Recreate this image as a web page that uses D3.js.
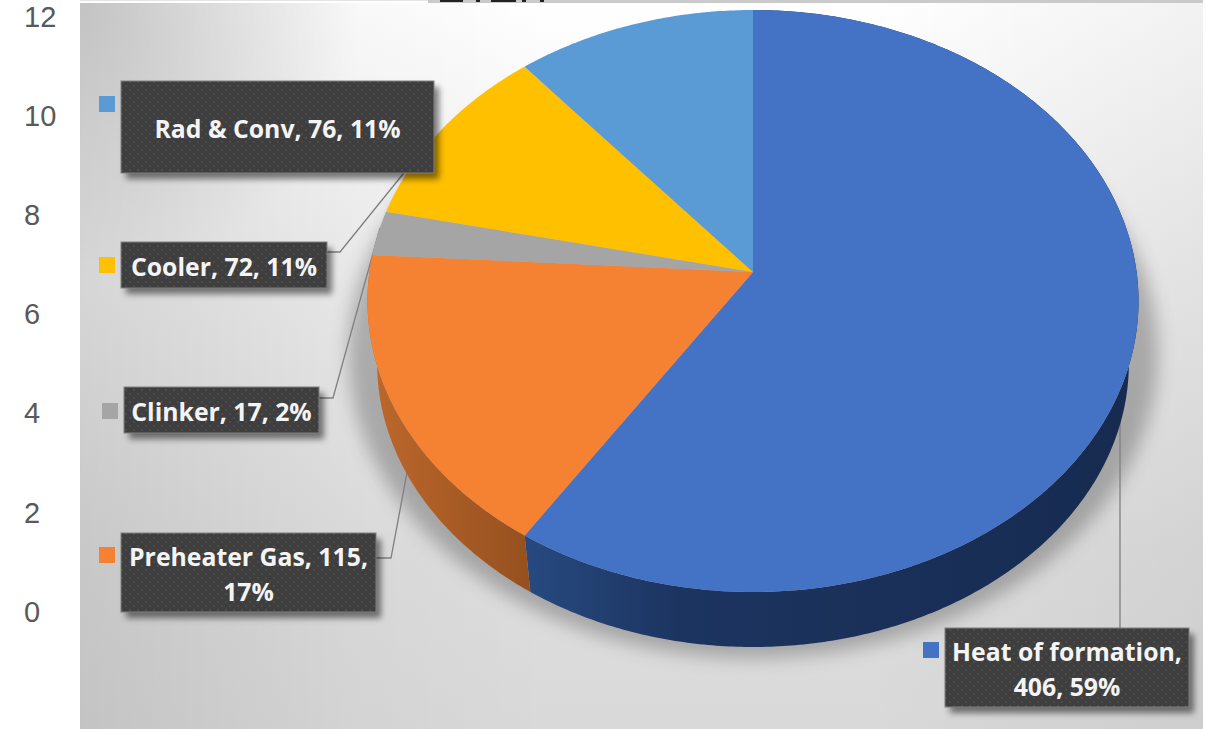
<!DOCTYPE html>
<html>
<head>
<meta charset="utf-8">
<script src="https://cdn.jsdelivr.net/npm/d3@7"></script>
<style>
  html, body { margin: 0; padding: 0; background: #fff; }
  svg { display: block; }
</style>
</head>
<body>
<svg id="chart" width="1206" height="729"></svg>
<script>
// Heat balance of the kiln, in slice order clockwise from twelve o'clock
const categories = ["Heat of formation", "Preheater Gas", "Clinker", "Cooler", "Rad & Conv"];
const heatValues = [406, 115, 17, 72, 76];
const heatPercents = [59, 17, 2, 11, 11];
const sliceColors = ["#4472c4", "#f58233", "#a5a5a5", "#ffc000", "#5b9bd5"];
const axisTicks = [0, 2, 4, 6, 8, 10, 12];

// Label box placement, one entry per category
const labelBoxes = [
  { x: 945, y: 628, w: 244, h: 79, key: [923, 642], lines: ["name,", "value, pct"] },
  { x: 121, y: 533, w: 255, h: 79, key: [99, 547], lines: ["name, value,", "pct"] },
  { x: 124, y: 387, w: 195, h: 46, key: [102, 403], lines: ["name, value, pct"] },
  { x: 121, y: 242, w: 206, h: 46, key: [99, 257], lines: ["name, value, pct"] },
  { x: 121, y: 81, w: 313, h: 92, key: [99, 96], lines: ["name, value, pct"] }
];
// Leader polylines from label boxes into their slices
const leaders = [
  [[1120, 628], [1120, 410]],
  [[376, 558], [391, 558], [409, 462]],
  [[319, 398], [333, 398], [380, 228]],
  [[327, 252], [340, 252], [420, 153]]
];

const svg = d3.select("#chart");
const defs = svg.append("defs");

// ---- Backdrop gradients and effects ----
function linear(id, x1, y1, x2, y2, stops) {
  const g = defs.append("linearGradient").attr("id", id)
    .attr("gradientUnits", "userSpaceOnUse")
    .attr("x1", x1).attr("y1", y1).attr("x2", x2).attr("y2", y2);
  stops.forEach(s => g.append("stop").attr("offset", s[0]).attr("stop-color", s[1]).attr("stop-opacity", s[2] === undefined ? 1 : s[2]));
}
linear("bgV", 0, 3, 0, 729, [[0, "#ffffff"], [0.35, "#efefef"], [0.75, "#dedede"], [1, "#d9d9d9"]]);
linear("bgH", 80, 0, 1203, 0, [[0, "#000", 0.10], [0.25, "#000", 0.025], [0.42, "#000", 0], [0.7, "#000", 0], [1, "#000", 0.05]]);
const corner = defs.append("radialGradient").attr("id", "bgCorner")
  .attr("gradientUnits", "userSpaceOnUse").attr("cx", 80).attr("cy", 3).attr("r", 280);
corner.append("stop").attr("offset", 0).attr("stop-color", "#000").attr("stop-opacity", 0.15);
corner.append("stop").attr("offset", 1).attr("stop-color", "#000").attr("stop-opacity", 0);

linear("wall0", 530, 0, 1130, 0, [[0, "#27497f"], [0.25, "#1c3460"], [1, "#172b50"]]);
linear("wall1", 378, 0, 532, 0, [[0, "#bb672b"], [1, "#95501f"]]);

defs.append("filter").attr("id", "pieShadow")
  .attr("x", "-10%").attr("y", "-10%").attr("width", "120%").attr("height", "120%")
  .append("feGaussianBlur").attr("stdDeviation", 9);
defs.append("filter").attr("id", "boxShadow")
  .attr("x", "-10%").attr("y", "-20%").attr("width", "120%").attr("height", "140%")
  .append("feGaussianBlur").attr("stdDeviation", 3);

const dots = defs.append("pattern").attr("id", "boxDots")
  .attr("patternUnits", "userSpaceOnUse").attr("width", 8).attr("height", 8);
dots.append("rect").attr("width", 8).attr("height", 8).attr("fill", "#3e3e3e");
dots.append("circle").attr("cx", 2).attr("cy", 2).attr("r", 0.8).attr("fill", "#5a5a5a");
dots.append("circle").attr("cx", 6).attr("cy", 6).attr("r", 0.8).attr("fill", "#5a5a5a");

const plot = { x: 80, y: 3, w: 1123, h: 726 };
["url(#bgV)", "url(#bgH)", "url(#bgCorner)"].forEach(fill =>
  svg.append("rect").attr("x", plot.x).attr("y", plot.y).attr("width", plot.w).attr("height", plot.h).attr("fill", fill));

// Sliver of the window frame and cut-off heading along the top edge
svg.append("rect").attr("x", 80).attr("y", 0).attr("width", 1123).attr("height", 1).attr("fill", "#e4e4e4");
svg.append("rect").attr("x", 428).attr("y", 0).attr("width", 775).attr("height", 3).attr("fill", "#cacaca");
svg.selectAll("rect.frag").data([[440, 23], [476, 4], [491, 25], [522, 4], [540, 4]]).join("rect")
  .attr("class", "frag").attr("x", d => d[0]).attr("y", 0).attr("width", d => d[1]).attr("height", 2).attr("fill", "#222");

// ---- Value axis left over from the underlying chart ----
const yAxisScale = d3.scaleLinear().domain([0, 12]).range([612, 17]);
const axisG = svg.append("g").attr("transform", "translate(24,0)")
  .call(d3.axisLeft(yAxisScale).tickValues(axisTicks).tickSize(0).tickPadding(0).tickFormat(d3.format("d")));
axisG.select(".domain").remove();
axisG.selectAll("text")
  .attr("text-anchor", "start")
  .attr("x", 0)
  .attr("font-family", "'Liberation Sans', Arial, sans-serif")
  .attr("font-size", 29)
  .attr("fill", "#595959");

// ---- Tilted pie: a disc seen in perspective, so the apex sits above the ellipse centre ----
const persp = 0.0997;
const apexX = 753, apexY = 272;
const sx = d3.scaleLinear().domain([-1, 1]).range([apexX - 383.6, apexX + 383.6]);
const sy = d3.scaleLinear().domain([-1, 1]).range([apexY - 288.1, apexY + 288.1]);

function project(angle, scale, drop) {
  const u = Math.sin(angle), v = -Math.cos(angle), w = 1 - persp * v;
  return [
    apexX + scale * (sx(u / w) - apexX),
    apexY + drop + scale * (sy(v / w) - apexY)
  ];
}
function arcPoints(a0, a1, scale, drop) {
  return d3.range(a0, a1, 0.01).concat(a1).map(a => project(a, scale, drop));
}
const line = d3.line();
const slices = d3.pie().sort(null).value(d => d)(heatValues);

// Soft shadow beneath the disc
svg.append("path")
  .attr("d", line(arcPoints(0, 2 * Math.PI, 1.05, 50)) + "Z")
  .attr("fill", "#000").attr("fill-opacity", 0.25).attr("filter", "url(#pieShadow)");

// Leader lines run underneath the disc
svg.selectAll("path.leader").data(leaders).join("path")
  .attr("class", "leader").attr("d", d => line(d))
  .attr("fill", "none").attr("stroke", "#7f7f7f").attr("stroke-width", 1.3);

// Rim, drawn only for the two slices that face the viewer
const rimScale = 0.975, rimDrop = 63;
svg.selectAll("path.rim").data(slices.slice(0, 2)).join("path")
  .attr("class", "rim")
  .attr("d", d => line(arcPoints(d.startAngle, d.endAngle, 1, 0)
    .concat(arcPoints(d.startAngle, d.endAngle, rimScale, rimDrop).reverse())) + "Z")
  .attr("fill", (d, i) => `url(#wall${i})`);

// Top faces
svg.selectAll("path.slice").data(slices).join("path")
  .attr("class", "slice")
  .attr("d", d => line([[apexX, apexY]].concat(arcPoints(d.startAngle, d.endAngle, 1, 0))) + "Z")
  .attr("fill", (d, i) => sliceColors[i]);

// ---- Data labels with colour keys ----
const labels = svg.selectAll("g.label").data(categories).join("g").attr("class", "label");

labels.append("rect").attr("x", (d, i) => labelBoxes[i].x + 5).attr("y", (d, i) => labelBoxes[i].y + 6)
  .attr("width", (d, i) => labelBoxes[i].w).attr("height", (d, i) => labelBoxes[i].h)
  .attr("fill", "#000").attr("fill-opacity", 0.5).attr("filter", "url(#boxShadow)");
labels.append("rect").attr("x", (d, i) => labelBoxes[i].x).attr("y", (d, i) => labelBoxes[i].y)
  .attr("width", (d, i) => labelBoxes[i].w).attr("height", (d, i) => labelBoxes[i].h)
  .attr("fill", "url(#boxDots)").attr("stroke", "#808080").attr("stroke-width", 1);
labels.append("rect").attr("x", (d, i) => labelBoxes[i].key[0]).attr("y", (d, i) => labelBoxes[i].key[1])
  .attr("width", 16).attr("height", 16).attr("fill", (d, i) => sliceColors[i]);

labels.each(function (name, i) {
  const box = labelBoxes[i];
  const pct = heatPercents[i] + "%";
  const rows = box.lines.map(t => t.replace("name", name).replace("value", heatValues[i]).replace("pct", pct));
  const rowHeight = 35;
  const midY = box.y + box.h / 2 + 2.5;
  rows.forEach((row, r) => {
    d3.select(this).append("text")
      .attr("x", box.x + box.w / 2)
      .attr("y", midY + (r - (rows.length - 1) / 2) * rowHeight)
      .attr("dy", "0.36em")
      .attr("text-anchor", "middle")
      .attr("font-family", "'Open Sans', sans-serif")
      .attr("font-weight", 700)
      .attr("font-size", 24.8)
      .attr("fill", "#f4f4f4")
      .text(row);
  });
});
</script>
</body>
</html>
